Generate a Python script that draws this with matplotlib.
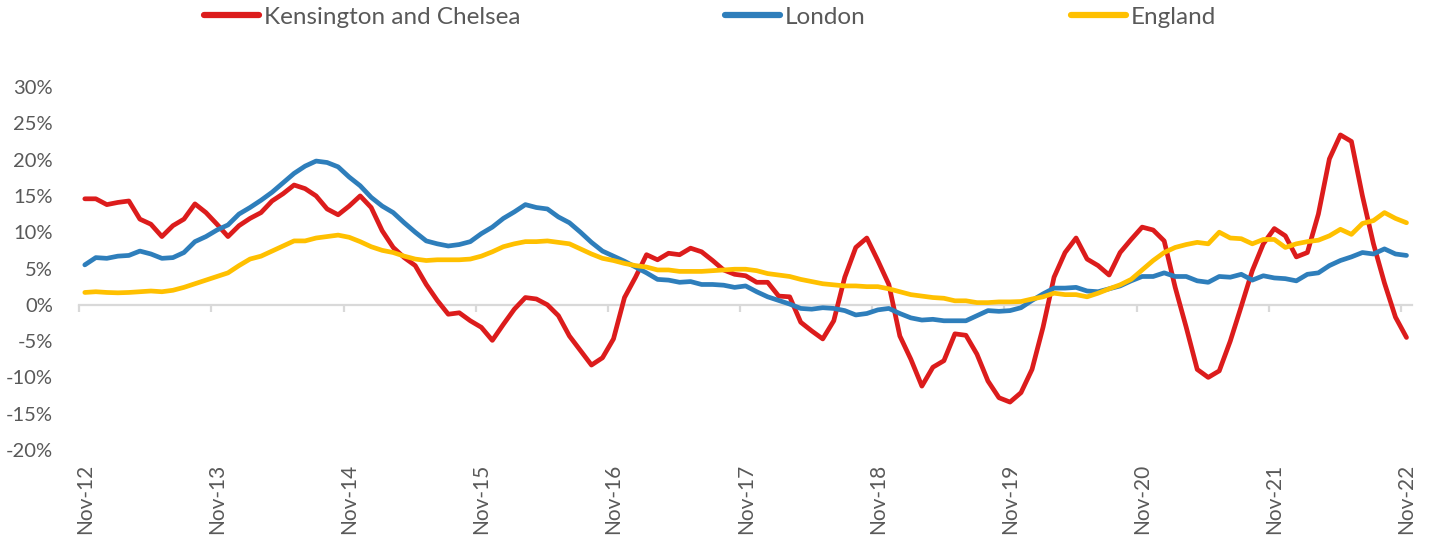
import matplotlib
matplotlib.use("Agg")
import matplotlib.pyplot as plt

series_names = ["Kensington and Chelsea", "London", "England"]

kensington = [14.6, 14.6, 13.8, 14.1, 14.3, 11.8, 11.1, 9.4, 10.9, 11.8, 13.9, 12.7, 11.1, 9.4, 10.9, 11.9, 12.7, 14.3, 15.3, 16.5,
              16.0, 15.0, 13.2, 12.4, 13.6, 15.0, 13.4, 10.2, 7.9, 6.5, 5.4, 2.8, 0.6, -1.3, -1.1, -2.2, -3.1, -4.9, -2.7, -0.6,
              1.0, 0.8, 0.0, -1.5, -4.3, -6.3, -8.3, -7.3, -4.7, 1.0, 3.8, 6.9, 6.2, 7.1, 6.9, 7.8, 7.3, 6.1, 4.8, 4.2,
              4.0, 3.1, 3.1, 1.2, 1.1, -2.4, -3.6, -4.7, -2.2, 3.8, 7.9, 9.2, 6.1, 2.8, -4.3, -7.5, -11.2, -8.6, -7.7, -4.0,
              -4.2, -6.8, -10.5, -12.8, -13.4, -12.1, -8.9, -3.1, 3.8, 7.2, 9.2, 6.3, 5.4, 4.1, 7.2, 9.0, 10.7, 10.3, 8.8, 2.4,
              -3.1, -8.9, -10.0, -9.1, -5.0, -0.2, 4.7, 8.4, 10.5, 9.5, 6.6, 7.2, 12.5, 20.1, 23.4, 22.5, 15.0, 8.4, 3.0, -1.7, -4.5]

london = [5.5, 6.5, 6.4, 6.7, 6.8, 7.4, 7.0, 6.4, 6.5, 7.2, 8.7, 9.4, 10.3, 11.0, 12.5, 13.4, 14.4, 15.5, 16.8, 18.1,
          19.1, 19.8, 19.6, 19.0, 17.6, 16.4, 14.8, 13.6, 12.7, 11.3, 10.0, 8.8, 8.4, 8.1, 8.3, 8.7, 9.8, 10.7, 11.9, 12.8,
          13.8, 13.4, 13.2, 12.1, 11.3, 10.0, 8.6, 7.4, 6.7, 6.0, 5.2, 4.4, 3.5, 3.4, 3.1, 3.2, 2.8, 2.8, 2.7, 2.4,
          2.6, 1.8, 1.1, 0.6, 0.1, -0.5, -0.6, -0.4, -0.5, -0.8, -1.4, -1.2, -0.7, -0.5, -1.2, -1.8, -2.1, -2.0, -2.2, -2.2,
          -2.2, -1.5, -0.8, -0.9, -0.8, -0.4, 0.6, 1.5, 2.3, 2.3, 2.4, 1.9, 1.8, 2.2, 2.6, 3.3, 3.9, 3.9, 4.4, 3.9,
          3.9, 3.3, 3.1, 3.9, 3.8, 4.2, 3.4, 4.0, 3.7, 3.6, 3.3, 4.2, 4.4, 5.4, 6.1, 6.6, 7.2, 7.0, 7.7, 7.0, 6.8]

england = [1.7, 1.8, 1.7, 1.65, 1.7, 1.8, 1.9, 1.8, 2.0, 2.4, 2.9, 3.4, 3.9, 4.4, 5.4, 6.3, 6.7, 7.4, 8.1, 8.8,
           8.8, 9.2, 9.4, 9.6, 9.3, 8.7, 8.0, 7.5, 7.2, 6.7, 6.3, 6.1, 6.2, 6.2, 6.2, 6.3, 6.7, 7.3, 8.0, 8.4,
           8.7, 8.7, 8.8, 8.6, 8.4, 7.7, 7.0, 6.4, 6.1, 5.7, 5.4, 5.2, 4.8, 4.8, 4.6, 4.6, 4.6, 4.7, 4.8, 4.9,
           4.9, 4.7, 4.3, 4.1, 3.9, 3.5, 3.2, 2.9, 2.75, 2.6, 2.6, 2.5, 2.5, 2.2, 1.8, 1.4, 1.2, 1.0, 0.9, 0.55,
           0.55, 0.3, 0.3, 0.4, 0.4, 0.45, 0.8, 1.1, 1.6, 1.4, 1.4, 1.1, 1.6, 2.2, 2.75, 3.5, 4.8, 6.1, 7.2, 7.9,
           8.3, 8.6, 8.4, 10.0, 9.2, 9.1, 8.4, 9.0, 9.0, 7.9, 8.4, 8.7, 8.9, 9.5, 10.4, 9.7, 11.2, 11.6, 12.7, 11.9, 11.3]

year_labels = ["Nov-12", "Nov-13", "Nov-14", "Nov-15", "Nov-16", "Nov-17",
               "Nov-18", "Nov-19", "Nov-20", "Nov-21", "Nov-22"]
y_ticks = [-20, -15, -10, -5, 0, 5, 10, 15, 20, 25, 30]

colors = ["#DC1C1C", "#2E7EBB", "#FFC000"]
text_color = "#595959"
axis_color = "#D9D9D9"
font = "Lato"
plt.rcParams["font.family"] = [font, "DejaVu Sans"]

W, H = 1430, 537
fig = plt.figure(figsize=(W / 100, H / 100), dpi=100)
ax = fig.add_axes([79.3 / W, 1 - 450 / H, (1412 - 79.3) / W, (450 - 87) / H])

x = list(range(len(kensington)))
handles = []
for data, c, name in zip([kensington, london, england], colors, series_names):
    ln, = ax.plot(x, data, color=c, lw=3.4, solid_joinstyle="round", solid_capstyle="round", label=name, zorder=3)
    handles.append(ln)

ax.set_xlim(-0.5, len(x) - 0.5)
ax.set_ylim(-20, 30)
ax.set_yticks(y_ticks)
ax.set_yticklabels([f"{v}%" for v in y_ticks], color=text_color, fontsize=14.5)
ax.tick_params(axis="y", length=0, pad=19)

for s in ["left", "right", "top"]:
    ax.spines[s].set_visible(False)
ax.spines["bottom"].set_position(("data", 0))
ax.spines["bottom"].set_color(axis_color)
ax.spines["bottom"].set_linewidth(1.6)
ax.spines["bottom"].set_zorder(1)
label_pos = list(range(0, len(x), 12))
ax.set_xticks([p - 0.5 for p in label_pos])
ax.set_xticklabels([])
ax.tick_params(axis="x", length=5, width=1.6, color=axis_color, direction="out")

sec = ax.secondary_xaxis(0)
sec.set_xticks(label_pos)
sec.set_xticklabels(year_labels, rotation=90, color=text_color, fontsize=15)
sec.tick_params(length=0, pad=10)
for s in sec.spines.values():
    s.set_visible(False)

fs = 17.5
leg = fig.legend(handles=handles, loc="center", bbox_to_anchor=(710 / W, 1 - 17 / H), ncol=3,
                 frameon=False, fontsize=fs, handlelength=55 / (fs * 1.389),
                 handletextpad=5 / (fs * 1.389), columnspacing=205 / (fs * 1.389))
for t in leg.get_texts():
    t.set_color(text_color)
for lh in leg.get_lines():
    lh.set_linewidth(4.5)

fig.savefig("out.png", dpi=100)
